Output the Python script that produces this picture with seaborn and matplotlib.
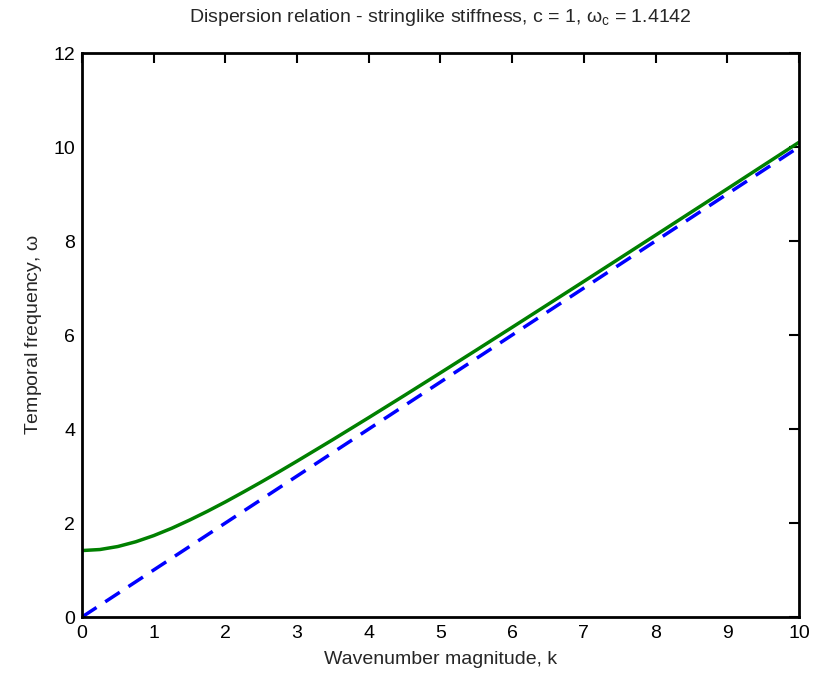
import matplotlib
matplotlib.use("Agg")
import matplotlib.pyplot as plt
import seaborn as sns
import pandas as pd

# values
wavenumber = [0.0, 0.25, 0.5, 0.75, 1.0, 1.25, 1.5, 1.75, 2.0, 2.25, 2.5, 2.75,
              3.0, 3.5, 4.0, 4.5, 5.0, 5.5, 6.0, 6.5, 7.0, 7.5, 8.0, 8.5,
              9.0, 9.5, 10.0]
omega_stiff = [1.414, 1.436, 1.500, 1.601, 1.732, 1.887, 2.062, 2.250, 2.449, 2.658,
               2.872, 3.092, 3.317, 3.775, 4.243, 4.717, 5.196, 5.679, 6.164, 6.652,
               7.141, 7.632, 8.124, 8.617, 9.110, 9.605, 10.100]
omega_ideal = [0.0, 0.25, 0.5, 0.75, 1.0, 1.25, 1.5, 1.75, 2.0, 2.25, 2.5, 2.75,
               3.0, 3.5, 4.0, 4.5, 5.0, 5.5, 6.0, 6.5, 7.0, 7.5, 8.0, 8.5,
               9.0, 9.5, 10.0]
x_ticks = [0, 1, 2, 3, 4, 5, 6, 7, 8, 9, 10]
y_ticks = [0, 2, 4, 6, 8, 10, 12]

sns.set_style('white')
plt.rcParams['font.family'] = ['Liberation Sans', 'DejaVu Sans']
plt.rcParams['mathtext.fontset'] = 'custom'
plt.rcParams['mathtext.rm'] = 'Liberation Sans'
plt.rcParams['mathtext.it'] = 'Liberation Sans'
plt.rcParams['font.size'] = 14

df = pd.DataFrame({'k': wavenumber, 'stiff': omega_stiff, 'ideal': omega_ideal})

fig = plt.figure(figsize=(8.15, 6.77), dpi=100)
ax = fig.add_axes([0.1006, 0.0886, 0.8797, 0.8331])

sns.lineplot(data=df, x='k', y='stiff', ax=ax, color='#008000', linewidth=2.5)
sns.lineplot(data=df, x='k', y='ideal', ax=ax, color='#0000ff', linewidth=2.5,
             linestyle=(0, (5, 3)))

ax.set_xlim(0, 10)
ax.set_ylim(0, 12)
ax.set_xticks(x_ticks)
ax.set_yticks(y_ticks)
ax.tick_params(direction='in', length=7, width=1.5, top=True, right=True,
               labelsize=14, colors='black', pad=6)
ax.tick_params(axis='y', pad=5)
for sp in ax.spines.values():
    sp.set_visible(True)
    sp.set_color('black')
    sp.set_linewidth(2)

ax.set_xlabel('Wavenumber magnitude, k', fontsize=14, labelpad=6)
ax.set_ylabel(r'Temporal frequency, $\omega$', fontsize=14, labelpad=7)
ax.set_title(r'Dispersion relation - stringlike stiffness, c = 1, $\omega_c$ = 1.4142',
             fontsize=14, pad=22)

fig.savefig('out.png', dpi=100)
